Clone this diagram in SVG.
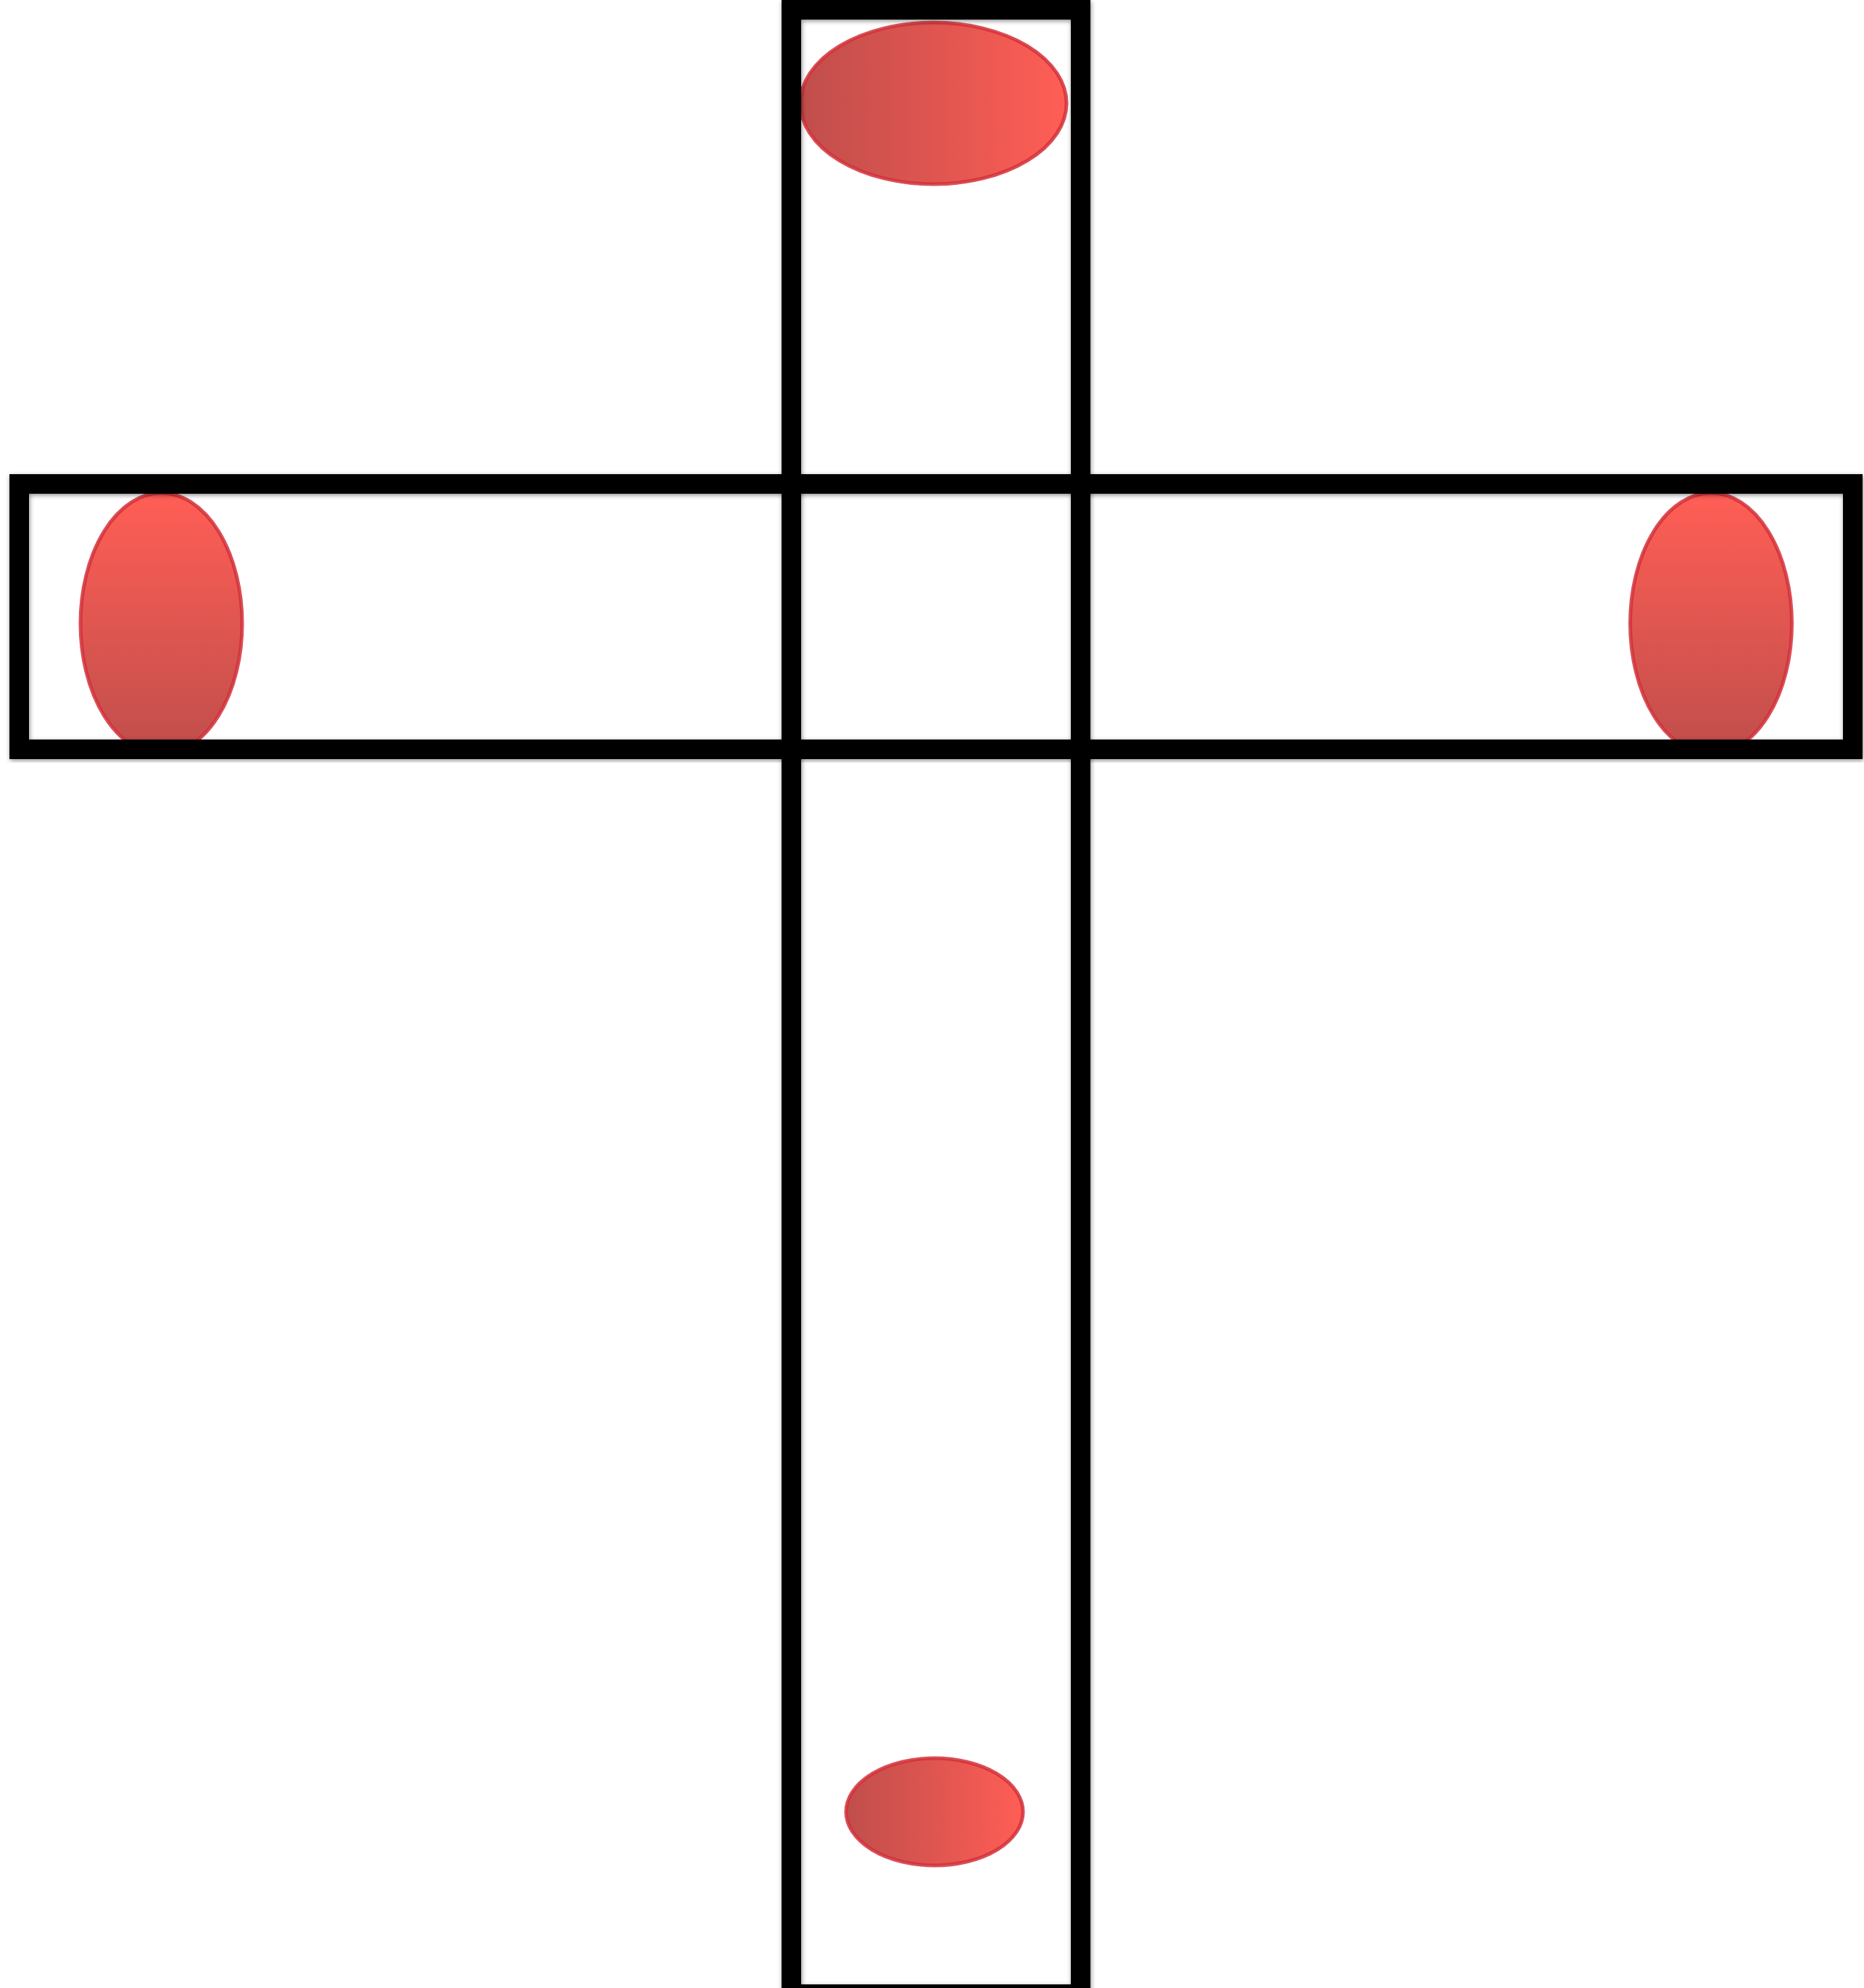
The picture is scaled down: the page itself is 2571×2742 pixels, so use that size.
<svg xmlns="http://www.w3.org/2000/svg" width="2571" height="2742" viewBox="0 0 2571 2742">
  <style>
    .bar { fill: none; stroke: #000000; stroke-width: 27; filter: url(#shadow); }
    .spot { stroke: #D2303A; stroke-opacity: 0.85; stroke-width: 5; }
  </style>
  <defs>
    <linearGradient id="gradH" x1="0" y1="0" x2="1" y2="0">
      <stop offset="0" stop-color="#C04E4C"/>
      <stop offset="0.5" stop-color="#DF5550"/>
      <stop offset="1" stop-color="#FF5E55"/>
    </linearGradient>
    <linearGradient id="gradV" x1="0" y1="0" x2="0" y2="1">
      <stop offset="0" stop-color="#FF5E55"/>
      <stop offset="0.5" stop-color="#E05650"/>
      <stop offset="1" stop-color="#C04E4C"/>
    </linearGradient>
    <filter id="shadow" x="-5%" y="-5%" width="110%" height="110%">
      <feDropShadow dx="1" dy="2" stdDeviation="3" flood-color="#000000" flood-opacity="0.45"/>
    </filter>
  </defs>
  <rect width="2571" height="2742" fill="#FFFFFF"/>

  <g id="spot-top">
    <ellipse class="spot" cx="1287.5" cy="142.5" rx="183.5" ry="111.5" fill="url(#gradH)"/>
  </g>
  <g id="spot-left">
    <ellipse class="spot" cx="222.5" cy="860" rx="111.5" ry="180" fill="url(#gradV)"/>
  </g>
  <g id="spot-right">
    <ellipse class="spot" cx="2360" cy="860" rx="111.5" ry="180" fill="url(#gradV)"/>
  </g>
  <g id="spot-bottom">
    <ellipse class="spot" cx="1289" cy="2499" rx="122" ry="74" fill="url(#gradH)"/>
  </g>

  <g id="bar-vertical">
    <rect class="bar" x="1091.5" y="13.5" width="399" height="2737"/>
  </g>
  <g id="bar-horizontal">
    <rect class="bar" x="26.5" y="667.5" width="2529" height="366"/>
  </g>
</svg>
